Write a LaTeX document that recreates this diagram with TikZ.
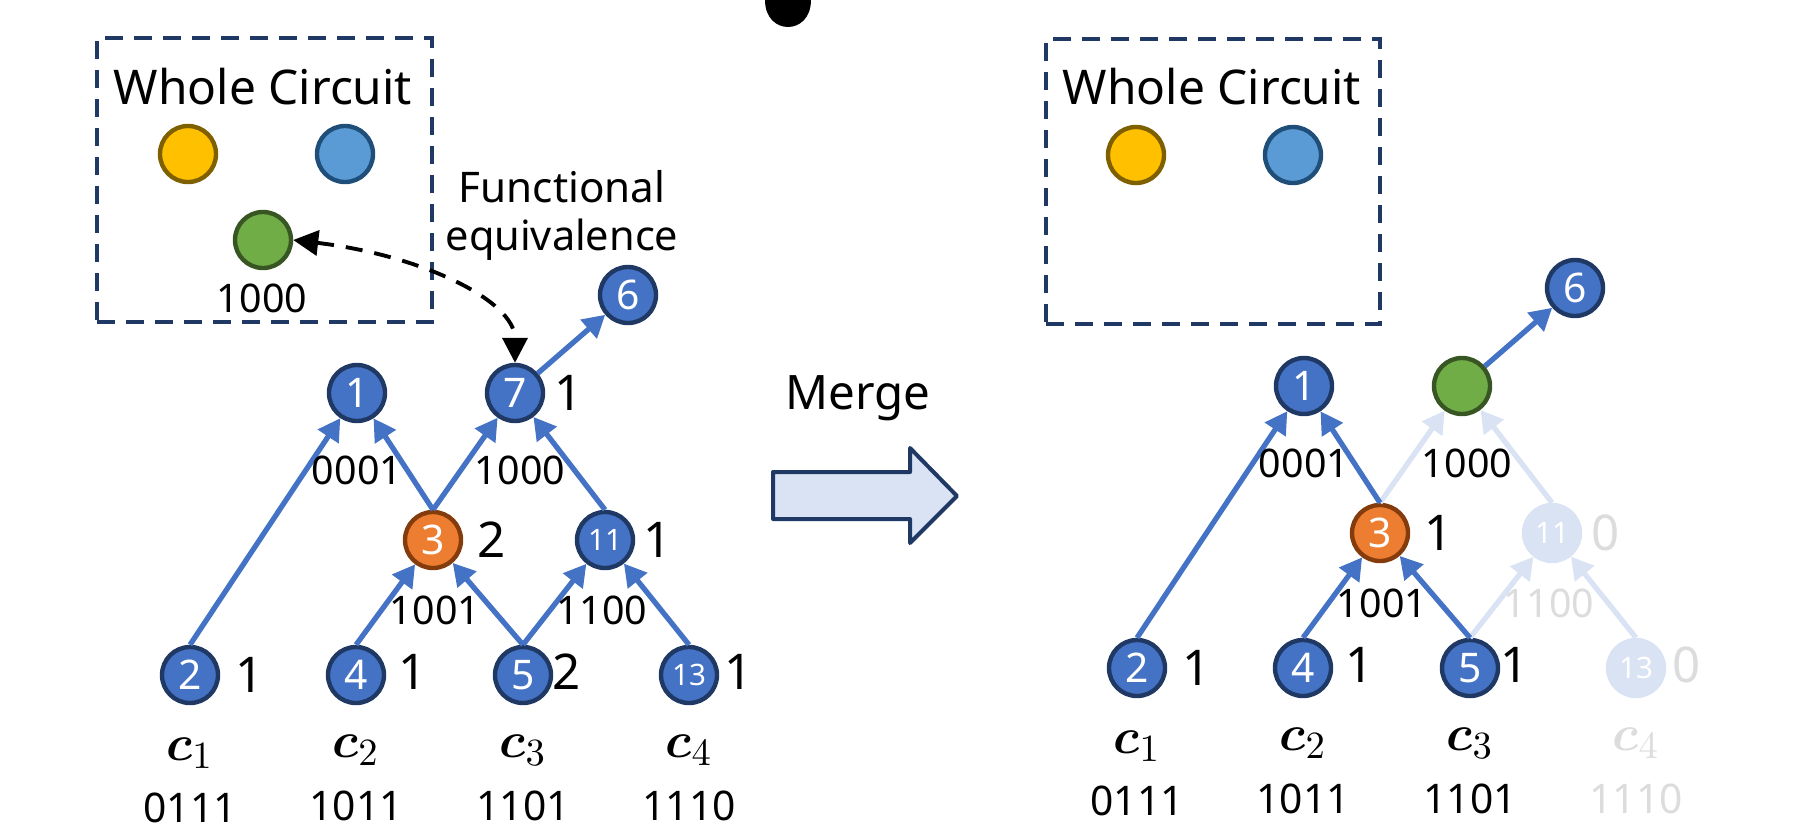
\documentclass[tikz,border=0pt]{standalone}
\usepackage{amsmath}
\usepackage[no-math]{fontspec}
\setmainfont{Noto Sans}
\usetikzlibrary{arrows.meta}
\definecolor{nblue}{HTML}{4472C4}
\definecolor{nnavy}{HTML}{1F3864}
\definecolor{norange}{HTML}{ED7D31}
\definecolor{nbrown}{HTML}{843C0C}
\definecolor{ngreen}{HTML}{70AD47}
\definecolor{ndkgreen}{HTML}{375623}
\definecolor{nyellow}{HTML}{FFC000}
\definecolor{nyelbord}{HTML}{7F6000}
\definecolor{nlblue}{HTML}{5B9BD5}
\definecolor{nlbbord}{HTML}{1F4E79}
\definecolor{fade}{HTML}{DAE3F3}
\definecolor{fadetext}{HTML}{DCDCDC}
\definecolor{arrfill}{HTML}{DAE3F3}
\tikzset{
  cnode/.style={circle, minimum size=0.56cm, inner sep=0pt, line width=1.25pt,
    text=white, font=\fontsize{11.6}{12}\selectfont},
  bnode/.style={cnode, fill=nblue, draw=nnavy},
  onode/.style={cnode, fill=norange, draw=nbrown},
  gnode/.style={cnode, fill=ngreen, draw=ndkgreen},
  ynode/.style={cnode, fill=nyellow, draw=nyelbord},
  lnode/.style={cnode, fill=nlblue, draw=nlbbord},
  fnode/.style={cnode, fill=fade, draw=fade},
  tiny/.style={font=\fontsize{8.4}{9}\selectfont},
  arrowline/.style={draw=nblue, line width=1.5pt, -{Triangle[length=0.22cm,width=0.24cm]}},
  fadeline/.style={arrowline, draw=fade},
  side/.style={font=\fontsize{14}{16}\selectfont, inner sep=0pt},
  bits/.style={font=\fontsize{11.2}{13}\selectfont, inner sep=0pt},
  cbits/.style={font=\fontsize{11.6}{13}\selectfont, inner sep=0pt},
  clab/.style={font=\fontsize{15.5}{17}\selectfont, inner sep=0pt},
  title/.style={font=\fontsize{13.6}{15}\selectfont, inner sep=0pt},
  boxline/.style={draw=nnavy, line width=1.14pt, dash pattern=on 0.18cm off 0.11cm},
  faded/.style={text=fadetext},
}
\begin{document}
\begin{tikzpicture}[x=0.01cm, y=-0.01cm]
\useasboundingbox (0,0) rectangle (1809,833);

% cut-off glyph at the top
\fill (765,0) .. controls (765,36) and (811,36) .. (811,0) -- cycle;

% ================= LEFT =================
\node[boxline, draw, rectangle, minimum width=3.35cm, minimum height=2.84cm, anchor=north west] (boxL) at (95,36) {};
\node[title] (wcL) at (263,87) {Whole Circuit};
\node[ynode] (yL) at (188,154) {};
\node[lnode] (lL) at (345,154) {};
\node[gnode] (gL) at (263,240) {};
\node[bits] (gLb) at (262,298) {1000};

\node[font=\fontsize{12}{14}\selectfont, inner sep=0pt] (fun) at (562,187) {Functional};
\node[font=\fontsize{11.8}{14}\selectfont, inner sep=0pt] (equ) at (562,240) {equivalence};

\node[bnode] (n1) at (357,393) {1};
\node[bnode] (n7) at (515,393) {7};
\node[bnode] (n6) at (628,295) {6};
\node[onode] (n3) at (433,540) {3};
\node[bnode, tiny] (n11) at (605,540) {11};
\node[bnode] (n2) at (190,675) {2};
\node[bnode] (n4) at (356,675) {4};
\node[bnode] (n5) at (523,675) {5};
\node[bnode, tiny] (n13) at (689,675) {13};

\node[side] (s7) at (569,393) {1};
\node[side] (s3) at (492,540) {2};
\node[side] (s11) at (658,540) {1};
\node[side] (s2) at (250,675) {1};
\node[side] (s4) at (413,672) {1};
\node[side] (s5) at (567,672) {2};
\node[side] (s13) at (739,672) {1};

\draw[arrowline] (n2.north) -- (n1);
\draw[arrowline] (n3.north) -- (n1);
\draw[arrowline] (n3.north) -- (n7);
\draw[arrowline] (n11.north) -- (n7);
\draw[arrowline] (n4.north) -- (n3);
\draw[arrowline] (n5.north) -- (n3);
\draw[arrowline] (n5.north) -- (n11);
\draw[arrowline] (n13.north) -- (n11);
\draw[arrowline] (n7) -- (n6);

\node[bits] (e1) at (357,470) {0001};
\node[bits] (e2) at (520,470) {1000};
\node[bits] (e3) at (435,610) {1001};
\node[bits] (e4) at (602,610) {1100};

\node[clab] (c1) at (190,753) {$\boldsymbol{c}_1$};
\node[clab] (c2) at (356,750) {$\boldsymbol{c}_2$};
\node[clab] (c3) at (523,750) {$\boldsymbol{c}_3$};
\node[clab] (c4) at (689,750) {$\boldsymbol{c}_4$};
\node[cbits] (b1) at (190,808) {0111};
\node[cbits] (b2) at (356,806) {1011};
\node[cbits] (b3) at (523,806) {1101};
\node[cbits] (b4) at (689,806) {1110};

\draw[black, line width=1.1pt, dash pattern=on 0.17cm off 0.12cm,
  {Triangle[length=0.25cm,width=0.25cm]}-{Triangle[length=0.25cm,width=0.25cm]}]
  (gL.east) .. controls (420,255) and (515,300) .. (n7.north);

% ================= MERGE ARROW =================
\node[font=\fontsize{13.5}{15}\selectfont, inner sep=0pt] (merge) at (858,398) {Merge};
\draw[draw=nnavy, fill=arrfill, line width=1.14pt, line join=round]
  (773,472) -- (910,472) -- (910,448) -- (957,496) -- (910,543) -- (910,519) -- (773,519) -- cycle;

% ================= RIGHT =================
\node[boxline, draw, rectangle, minimum width=3.34cm, minimum height=2.85cm, anchor=north west] (boxR) at (1044,37) {};
\node[title] (wcR) at (1212,87) {Whole Circuit};
\node[ynode] (yR) at (1136,155) {};
\node[lnode] (lR) at (1293,155) {};

\node[bnode] (m1) at (1304,386) {1};
\node[gnode] (mg) at (1462,386) {};
\node[bnode] (m6) at (1575,288) {6};
\node[onode] (m3) at (1380,533) {3};
\node[fnode, tiny] (m11) at (1552,533) {11};
\node[bnode] (m2) at (1137,668) {2};
\node[bnode] (m4) at (1303,668) {4};
\node[bnode] (m5) at (1470,668) {5};
\node[fnode, tiny] (m13) at (1636,668) {13};

\node[side] (t3) at (1439,533) {1};
\node[side, faded] (t11) at (1606,533) {0};
\node[side] (t2) at (1197,668) {1};
\node[side] (t4) at (1360,665) {1};
\node[side] (t5) at (1515,665) {1};
\node[side, faded] (t13) at (1687,665) {0};

\draw[fadeline] (m3.north) -- (mg);
\draw[fadeline] (m11.north) -- (mg);
\draw[fadeline] (m5.north) -- (m11);
\draw[fadeline] (m13.north) -- (m11);
\draw[arrowline] (m2.north) -- (m1);
\draw[arrowline] (m3.north) -- (m1);
\draw[arrowline] (m4.north) -- (m3);
\draw[arrowline] (m5.north) -- (m3);
\draw[arrowline] (mg) -- (m6);

\node[bits] (f1) at (1304,463) {0001};
\node[bits] (f2) at (1467,463) {1000};
\node[bits] (f3) at (1382,603) {1001};
\node[bits, faded] (f4) at (1549,603) {1100};

\node[clab] (d1) at (1137,746) {$\boldsymbol{c}_1$};
\node[clab] (d2) at (1303,743) {$\boldsymbol{c}_2$};
\node[clab] (d3) at (1470,743) {$\boldsymbol{c}_3$};
\node[clab, faded] (d4) at (1636,743) {$\boldsymbol{c}_4$};
\node[cbits] (g1) at (1137,801) {0111};
\node[cbits] (g2) at (1303,799) {1011};
\node[cbits] (g3) at (1470,799) {1101};
\node[cbits, faded] (g4) at (1636,799) {1110};
\end{tikzpicture}
\end{document}
